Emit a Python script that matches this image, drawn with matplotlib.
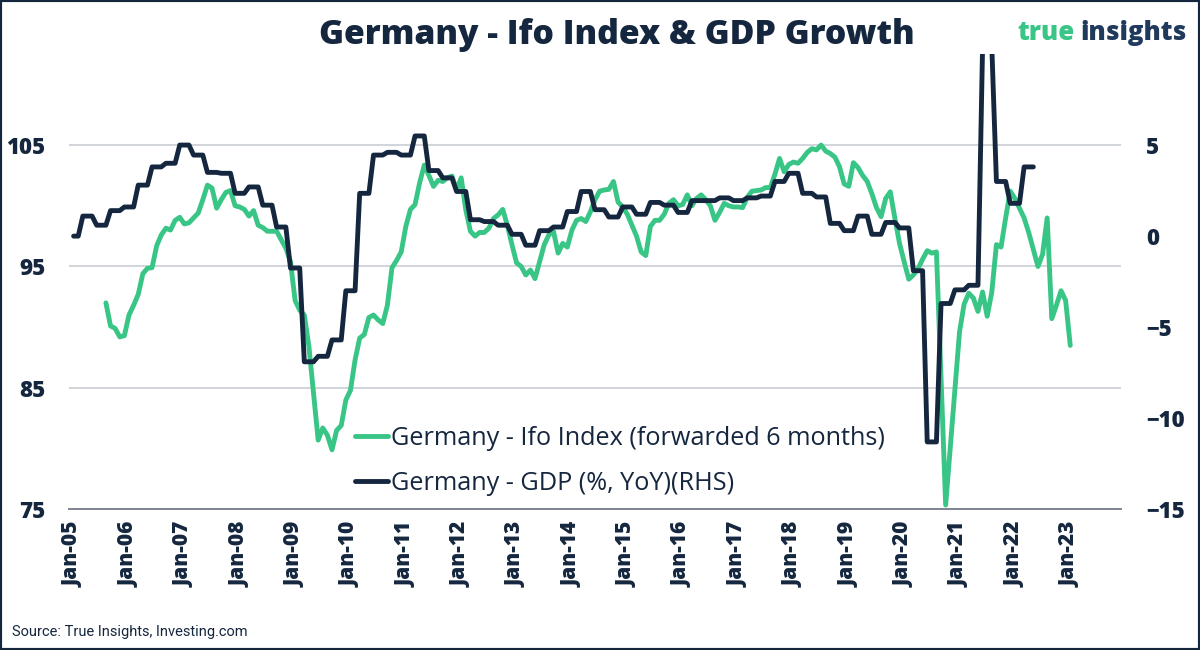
import matplotlib
matplotlib.use("Agg")
import matplotlib.pyplot as plt
from matplotlib.patches import Rectangle

NAVY = "#15263f"
GREEN = "#38c586"
GRID = "#c5c9d0"
BASE = "#7d8390"

# x axis: months since Jan-2005
tick_labels = ["Jan-05", "Jan-06", "Jan-07", "Jan-08", "Jan-09", "Jan-10", "Jan-11",
               "Jan-12", "Jan-13", "Jan-14", "Jan-15", "Jan-16", "Jan-17", "Jan-18",
               "Jan-19", "Jan-20", "Jan-21", "Jan-22", "Jan-23"]
tick_months = [0, 12, 24, 36, 48, 60, 72, 84, 96, 108, 120, 132, 144, 156, 168, 180, 192, 204, 216]

# Germany - Ifo Index (forwarded 6 months), monthly from Aug-05 (month 7) to Jan-23
ifo_first_month = 7
ifo_values = [
    92.0, 90.1, 89.9, 89.2, 89.3,                                              # 2005
    91.0, 91.8, 92.7, 94.4, 94.85, 94.9, 96.7, 97.6, 98.15, 98.0, 98.8, 99.05,   # 2006
    98.5, 98.6, 99.0, 99.4, 100.5, 101.7, 101.45, 99.8, 100.5, 101.1, 101.25, 100.0,  # 2007
    99.9, 99.7, 99.15, 99.6, 98.4, 98.2, 97.9, 97.9, 97.9, 97.2, 96.5, 95.4,     # 2008
    92.2, 91.4, 91.0, 88.4, 84.55, 80.7, 81.7, 81.1, 79.9, 81.5, 81.9, 84.0,     # 2009
    84.8, 87.3, 89.1, 89.4, 90.8, 91.0, 90.6, 90.3, 91.8, 94.9, 95.5, 96.2,      # 2010
    98.3, 99.7, 100.1, 101.9, 103.35, 102.5, 101.6, 102.1, 102.0, 102.3, 102.45, 101.3,  # 2011
    102.3, 99.65, 97.9, 97.5, 97.8, 97.8, 98.15, 98.95, 99.25, 99.7, 98.4, 96.8,  # 2012
    95.3, 95.0, 94.3, 94.7, 94.0, 95.4, 96.8, 97.6, 97.9, 96.1, 96.9, 96.6,      # 2013
    98.0, 98.8, 98.95, 98.7, 99.5, 100.5, 101.2, 101.3, 101.35, 102.0, 100.3, 99.9,  # 2014
    99.3, 98.4, 97.5, 96.2, 95.9, 98.3, 98.8, 98.8, 99.3, 100.2, 100.5, 100.0,   # 2015
    100.1, 100.9, 100.0, 100.6, 100.9, 100.5, 100.0, 98.8, 99.45, 100.2, 100.0, 99.9,  # 2016
    99.9, 99.85, 100.7, 101.2, 101.25, 101.3, 101.5, 101.5, 102.6, 103.9, 102.8, 103.4,  # 2017
    103.6, 103.5, 103.9, 104.4, 104.7, 104.6, 105.0, 104.5, 104.3, 104.0, 103.2, 101.8,  # 2018
    101.6, 103.55, 103.15, 102.5, 102.0, 101.0, 99.85, 99.1, 100.6, 101.15, 98.95, 96.9,  # 2019
    95.4, 93.95, 94.3, 94.8, 95.6, 96.3, 96.1, 96.2, 85.8, 75.35, 80.1, 84.9,    # 2020
    89.6, 91.9, 92.8, 92.4, 91.3, 92.9, 90.9, 92.9, 96.8, 96.6, 99.0, 101.2,     # 2021
    100.6, 99.8, 99.0, 97.8, 96.4, 95.0, 96.0, 99.0, 90.7, 91.8, 93.0, 92.2,     # 2022
    88.5,                                                                      # 2023
]

# Germany - GDP (%, YoY), monthly from Jan-05 (month 0) to May-22
gdp_first_month = 0
gdp_values = [
    0.0, 0.0, 1.1, 1.1, 1.1, 0.6, 0.6, 0.6, 1.4, 1.4, 1.4, 1.6,               # 2005
    1.6, 1.6, 2.8, 2.8, 2.8, 3.8, 3.8, 3.8, 4.0, 4.0, 4.0, 5.0,               # 2006
    5.0, 5.0, 4.45, 4.45, 4.45, 3.5, 3.5, 3.5, 3.45, 3.45, 3.45, 2.35,        # 2007
    2.35, 2.35, 2.7, 2.7, 2.7, 1.7, 1.7, 1.7, 0.5, 0.5, 0.5, -1.75,           # 2008
    -1.75, -1.75, -6.9, -6.9, -6.9, -6.6, -6.6, -6.6, -5.7, -5.7, -5.7, -3.0,  # 2009
    -3.0, -3.0, 2.35, 2.35, 2.35, 4.45, 4.45, 4.45, 4.6, 4.6, 4.6, 4.45,      # 2010
    4.45, 4.45, 5.5, 5.5, 5.5, 3.6, 3.6, 3.6, 3.2, 3.2, 3.2, 2.45,            # 2011
    2.45, 2.45, 0.9, 0.9, 0.9, 0.8, 0.8, 0.8, 0.6, 0.6, 0.6, 0.1,             # 2012
    0.1, 0.1, -0.5, -0.5, -0.5, 0.3, 0.3, 0.3, 0.5, 0.5, 0.5, 1.35,           # 2013
    1.35, 1.35, 2.45, 2.45, 2.45, 1.45, 1.45, 1.45, 1.05, 1.05, 1.05, 1.6,    # 2014
    1.6, 1.6, 1.2, 1.2, 1.2, 1.85, 1.85, 1.85, 1.7, 1.7, 1.7, 1.3,            # 2015
    1.3, 1.3, 1.95, 1.95, 1.95, 1.95, 1.95, 1.95, 2.1, 2.1, 2.1, 1.95,        # 2016
    1.95, 1.95, 2.1, 2.1, 2.1, 2.2, 2.2, 2.2, 3.0, 3.0, 3.0, 3.45,            # 2017
    3.45, 3.45, 2.35, 2.35, 2.35, 2.15, 2.15, 2.15, 0.7, 0.7, 0.7, 0.3,       # 2018
    0.3, 0.3, 1.1, 1.1, 1.1, 0.1, 0.1, 0.1, 0.75, 0.75, 0.75, 0.45,           # 2019
    0.45, 0.45, -1.9, -1.9, -1.9, -11.3, -11.3, -11.3, -3.7, -3.7, -3.7, -2.95,  # 2020
    -2.95, -2.95, -2.7, -2.7, -2.7, 10.4, 10.4, 10.4, 3.0, 3.0, 3.0, 1.8,     # 2021
    1.8, 1.8, 3.8, 3.8, 3.8,                                                  # 2022
]

ifo_x = list(range(ifo_first_month, ifo_first_month + len(ifo_values)))
gdp_x = list(range(gdp_first_month, gdp_first_month + len(gdp_values)))

plt.rcParams["font.family"] = ["Open Sans", "DejaVu Sans"]

W, H = 1200, 650
fig = plt.figure(figsize=(W / 100, H / 100), dpi=100)
fig.patch.set_facecolor("white")

L, R, T, B = 69, 1121, 54, 509.3
ax = fig.add_axes([L / W, 1 - B / H, (R - L) / W, (B - T) / H])
ax2 = ax.twinx()

ax.set_xlim(-1, 227)
ax.set_ylim(75, 112.5)
ax2.set_ylim(-15, 10)

for v in [85, 95, 105]:
    ax.axhline(v, color=GRID, lw=1.1, zorder=0)
ax.axhline(75, color=BASE, lw=1.4, zorder=0, clip_on=False)

l1, = ax.plot(ifo_x, ifo_values, color=GREEN, lw=3.5, solid_joinstyle="round",
              solid_capstyle="round", label="Germany - Ifo Index (forwarded 6 months)")
l2, = ax2.plot(gdp_x, gdp_values, color=NAVY, lw=3.5, solid_joinstyle="round",
               solid_capstyle="round", label="Germany - GDP (%, YoY)(RHS)")

for a in (ax, ax2):
    for s in a.spines.values():
        s.set_visible(False)

ax.set_yticks([75, 85, 95, 105])
ax2.set_yticks([-15, -10, -5, 0, 5])
ax.set_xticks(tick_months)
ax.set_xticklabels(tick_labels, rotation=90)
ax.tick_params(axis="y", length=0, pad=17, labelsize=16, labelcolor=NAVY)
ax2.tick_params(axis="y", length=0, pad=18, labelsize=16, labelcolor=NAVY)
ax.tick_params(axis="x", length=0, pad=9, labelsize=15, labelcolor=NAVY)
for lab in ax.get_yticklabels() + ax2.get_yticklabels() + ax.get_xticklabels():
    lab.set_fontweight(800)
for lab in ax.get_xticklabels():
    lab.set_va("top")

leg = fig.legend(handles=[l1, l2], loc="upper left", bbox_to_anchor=(355 / W, 1 - 426 / H),
                 frameon=False, fontsize=18.2, handlelength=1.3, handletextpad=0.12,
                 labelspacing=0.78, borderpad=0, borderaxespad=0)
for t in leg.get_texts():
    t.set_color(NAVY)

fig.text(617 / W, 1 - 35 / H, "Germany - Ifo Index & GDP Growth", ha="center", va="center",
         fontsize=24.3, fontweight=800, color=NAVY)
fig.text(1075 / W, 1 - 40 / H, "true", ha="right", va="baseline", fontsize=18.5,
         fontweight=800, color=GREEN)
fig.text(1187 / W, 1 - 40 / H, "insights", ha="right", va="baseline", fontsize=18.5,
         fontweight=800, color="#1f3a5c")
fig.text(12 / W, 1 - 632 / H, "Source: True Insights, Investing.com", ha="left", va="center",
         fontsize=10.5, color=NAVY, family=["Roboto", "DejaVu Sans"])

fig.patches.append(Rectangle((0, 0), 1, 1, transform=fig.transFigure, fill=False,
                             edgecolor=NAVY, lw=3, zorder=10))

fig.savefig("out.png", dpi=100, facecolor="white")
